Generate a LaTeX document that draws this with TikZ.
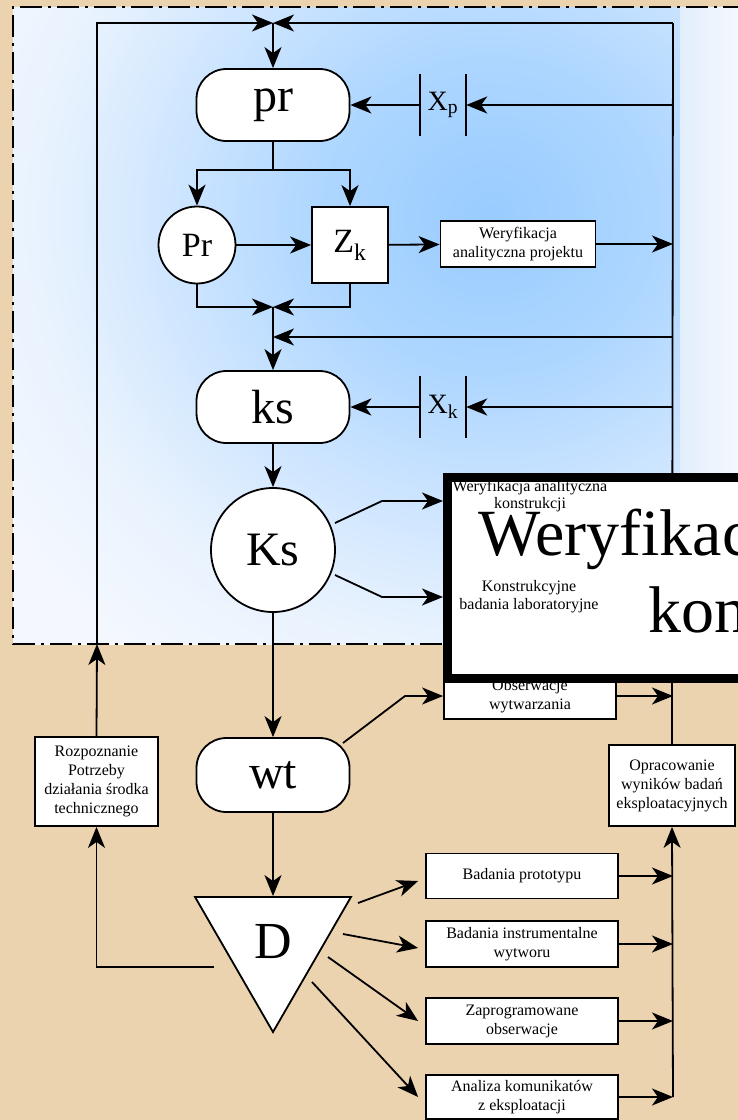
\documentclass[tikz,border=0pt]{standalone}
\usepackage{fontspec}
\setmainfont{Liberation Serif}
\usetikzlibrary{arrows.meta,shapes.geometric}
\definecolor{sand}{HTML}{EBD3AF}
\definecolor{paleblue}{HTML}{F4F8FE}
\definecolor{edgeblue}{HTML}{E2EEFC}
% soft sky-blue glow; the path's edge corresponds to 25bp
\pgfdeclareradialshading{skyglow}{\pgfpoint{0bp}{0bp}}{rgb(0bp)=(0.60,0.80,1); rgb(6bp)=(0.68,0.84,1); rgb(11bp)=(0.80,0.895,1); rgb(16bp)=(0.91,0.95,0.995); rgb(21bp)=(0.957,0.973,0.996); rgb(50bp)=(0.957,0.973,0.996)}

\begin{document}
\begin{tikzpicture}[x=1pt,y=-1pt,
  conn/.style={line width=1.8pt},
  arr/.style={conn,-{Stealth[length=21pt,width=17pt,inset=6pt]}},
  box/.style={draw,line width=1.8pt,fill=white,inner sep=0pt,align=center,
              font=\fontsize{16}{19}\selectfont},
  term/.style={draw,line width=1.8pt,fill=white,rounded corners=30pt,
               minimum width=153pt,minimum height=72pt,inner sep=0pt,
               font=\fontsize{48}{48}\selectfont},
  gate/.style={inner sep=0pt,minimum width=46pt,minimum height=62pt,
               font=\fontsize{28}{28}\selectfont},
  bar/.style={line width=1.8pt}
]
\useasboundingbox (0,0) rectangle (738,1120);
\clip (0,0) rectangle (738,1120);

% background: sand page with the shaded design area
\fill[sand] (0,0) rectangle (738,1120);
\fill[paleblue] (13,7) rectangle (738,644);
\begin{scope}
  \clip (13,7) rectangle (680,644);
  \shade[shading=skyglow] (490,215) ellipse [x radius=700pt, y radius=660pt];
\end{scope}
\shade[left color=edgeblue,right color=paleblue] (680,7) rectangle (738,644);
\draw[line width=2pt,dash pattern=on 22pt off 6pt on 3pt off 6pt]
  (745,7) -- (13,7) -- (13,644) -- (745,644);

% junction points
\coordinate (ltop) at (97,23);
\coordinate (jtop) at (273,23);
\coordinate (rtop) at (673,23);
\coordinate (lgate) at (97,644);
\coordinate (split) at (273,170);
\coordinate (jmid) at (273,307);
\coordinate (fb) at (273,337);

% process nodes
\node[term] (pr) at (273,105) {pr};
\node[gate] (Xp) at (443,105) {X\textsubscript{p}};
\node[draw,circle,line width=1.8pt,fill=white,minimum size=77pt,inner sep=0pt,
      font=\fontsize{34}{34}\selectfont] (Pr) at (197,245) {Pr};
\node[draw,line width=1.8pt,fill=white,minimum size=76pt,inner sep=0pt,
      font=\fontsize{34}{34}\selectfont] (Zk) at (350,245) {Z\textsubscript{k}};
\node[box,minimum width=155pt,minimum height=46pt] (Wp) at (518,244)
  {Weryfikacja\\analityczna projektu};
\node[term] (ks) at (273,407) {ks};
\node[gate] (Xk) at (443,407) {X\textsubscript{k}};
\node[draw,circle,line width=1.8pt,fill=white,minimum size=124pt,inner sep=0pt,
      font=\fontsize{48}{48}\selectfont] (Ks) at (273,550) {Ks};
\node[box,minimum width=172pt,minimum height=46pt] (Obs) at (530,696)
  {Obserwacje\\wytwarzania};
\node[term,minimum height=74pt] (wt) at (273,775) {wt};
\node[draw,regular polygon,regular polygon sides=3,shape border rotate=180,
      minimum size=180pt,inner sep=0pt,line width=1.8pt,fill=white,
      font=\fontsize{52}{52}\selectfont] (D) at (273,942) {D};
\node[box,minimum width=123pt,minimum height=89pt] (Rz) at (96.5,781.5)
  {Rozpoznanie\\Potrzeby\\działania środka\\technicznego};
\node[box,minimum width=126pt,minimum height=81pt] (Op) at (672,785.5)
  {Opracowanie\\wyników badań\\eksploatacyjnych};
\node[box,minimum width=192pt,minimum height=45pt] (B1) at (522,876)
  {Badania prototypu};
\node[box,minimum width=192pt,minimum height=46pt] (B2) at (522,944)
  {Badania instrumentalne\\wytworu};
\node[box,minimum width=192pt,minimum height=46pt] (B3) at (522,1021)
  {Zaprogramowane\\obserwacje};
\node[box,minimum width=192pt,minimum height=44pt] (B4) at (522,1097)
  {Analiza komunikatów\\z eksploatacji};

% gate bars
\draw[bar] (Xp.north west) -- (Xp.south west);
\draw[bar] (Xp.north east) -- (Xp.south east);
\draw[bar] (Xk.north west) -- (Xk.south west);
\draw[bar] (Xk.north east) -- (Xk.south east);

% main loop
\draw[arr] (Rz.north) -- (lgate);
\draw[arr] (lgate) -- (ltop) -- (jtop);
\draw[arr] (rtop) -- (jtop);
\draw[arr] (jtop) -- (pr.north);
\draw[conn] (rtop) -- (Op.north);

% design stage
\draw[arr] (rtop |- Xp.east) -- (Xp.east);
\draw[arr] (Xp.west) -- (pr.east);
\draw[conn] (pr.south) -- (split);
\draw[arr] (split) -| (Pr.north);
\draw[arr] (split) -| (Zk.north);
\draw[arr] (Pr) -- (Zk);
\draw[arr] (Zk) -- (Wp);
\draw[arr] (Wp) -- (Wp -| rtop);
\draw[arr] (Pr.south) |- (jmid);
\draw[arr] (Zk.south) |- (jmid);
\draw[arr] (rtop |- fb) -- (fb);
\draw[arr] (jmid) -- (ks.north);

% construction stage
\draw[arr] (rtop |- Xk.east) -- (Xk.east);
\draw[arr] (Xk.west) -- (ks.east);
\draw[arr] (ks.south) -- (Ks.north);
\coordinate (k1s) at (335,523);
\coordinate (k1m) at (382,501);
\coordinate (k1e) at (443,501);
\coordinate (k2s) at (335,575);
\coordinate (k2m) at (382,597);
\coordinate (k2e) at (443,597);
\draw[arr] (k1s) -- (k1m) -- (k1e);
\draw[arr] (k2s) -- (k2m) -- (k2e);
\draw[arr] (Ks.south) -- (wt.north);

% manufacturing stage
\coordinate (w1s) at (343,743);
\coordinate (w1m) at (405,696);
\draw[arr] (w1s) -- (w1m) -- (Obs.west);
\draw[arr] (Obs.east) -- (Obs.east -| rtop);
\draw[arr] (wt.south) -- (D.north);

% operation stage
\coordinate (d1) at (358,903);
\coordinate (d2) at (343,934);
\coordinate (d3) at (328,957);
\coordinate (d4) at (312,982);
\coordinate (dl) at (214,967);
\draw[arr] (d1) -- ([xshift=-7pt,yshift=-5pt]B1.west);
\draw[arr] (d2) -- ([xshift=-7pt,yshift=-4pt]B2.west);
\draw[arr] (d3) -- ([xshift=-7pt]B3.west);
\draw[arr] (d4) -- ([xshift=-7pt]B4.west);
\draw[arr] (B1.east) -- (B1.east -| rtop);
\draw[arr] (B2.east) -- (B2.east -| rtop);
\draw[arr] (B3.east) -- (B3.east -| rtop);
\draw[arr] (B4.east) -- (B4.east -| rtop);
\draw[arr] (B4.east -| rtop) -- (Op.south);
\draw[arr] (dl) -| (Rz.south);

% construction verification panel
\node[draw,line width=9pt,fill=white,minimum width=332pt,minimum height=201pt,
      inner sep=0pt] (Big) at (613.75,578) {};
\node[anchor=base,inner sep=0pt,font=\fontsize{66}{77}\selectfont] (BigA)
  at (797,555) {Weryfikacja analityczna};
\node[anchor=base,inner sep=0pt,font=\fontsize{66}{77}\selectfont] (BigB)
  at (797,632) {konstrukcji};
\node[align=center,inner sep=0pt,font=\fontsize{16}{17}\selectfont] (Wk)
  at (530,496) {Weryfikacja analityczna\\konstrukcji};
\node[align=center,inner sep=0pt,font=\fontsize{16}{18}\selectfont] (Kl)
  at (529,597) {Konstrukcyjne\\badania laboratoryjne};
\end{tikzpicture}
\end{document}
